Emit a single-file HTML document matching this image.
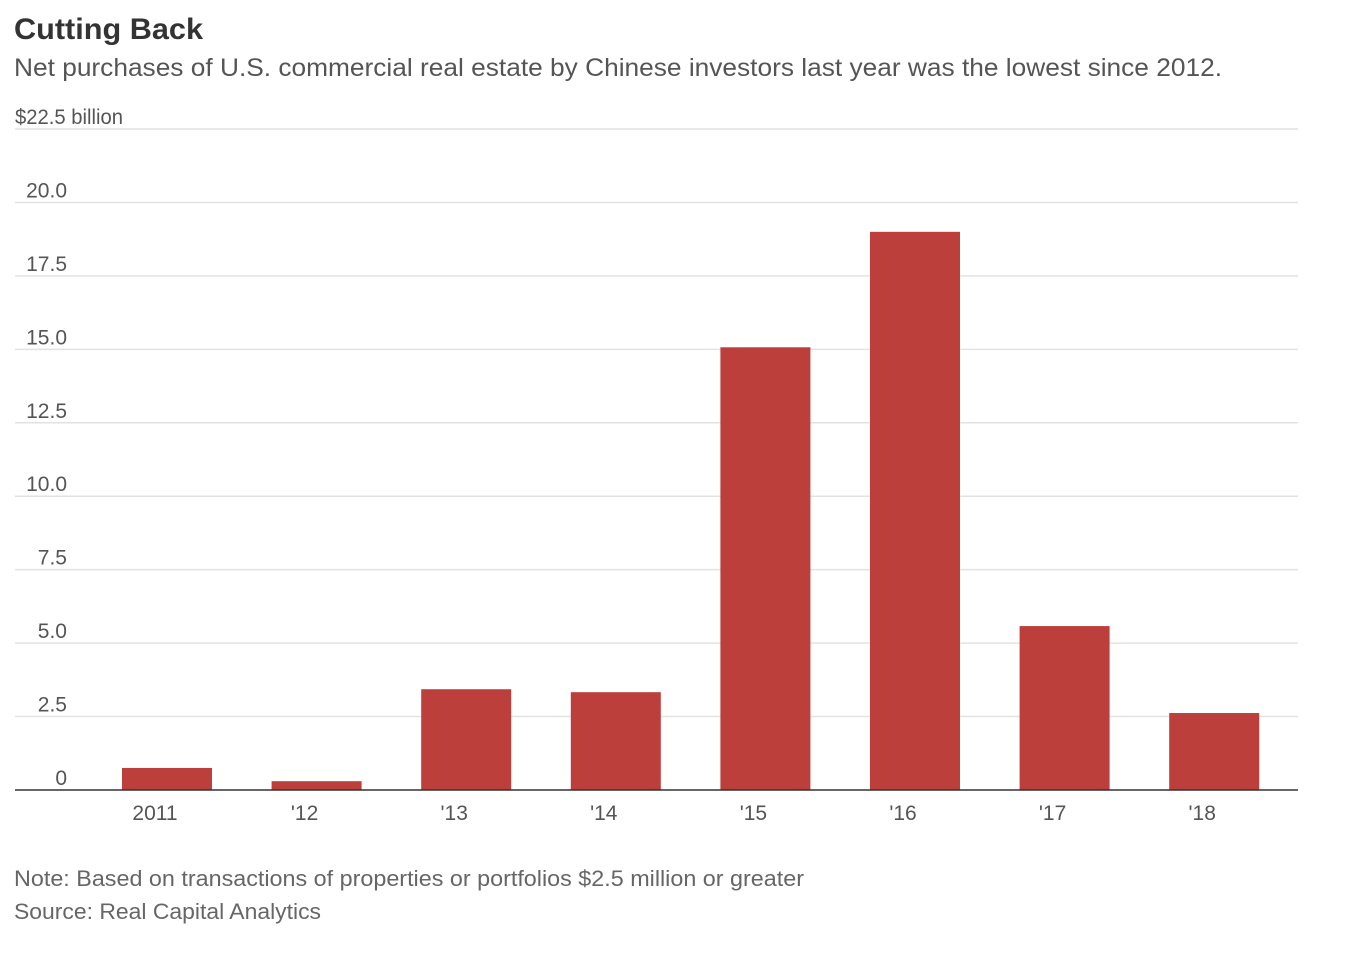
<!DOCTYPE html>
<html><head><meta charset="utf-8"><style>
html,body{margin:0;padding:0;background:#fff;}
svg{display:block;font-family:"Liberation Sans",sans-serif;}
</style></head><body>
<svg id="chart" width="1350" height="960">
<text x="14" y="39" font-size="30" font-weight="bold" fill="#333" textLength="189" lengthAdjust="spacingAndGlyphs">Cutting Back</text>
<text x="14" y="76" font-size="25" fill="#555" textLength="1208" lengthAdjust="spacingAndGlyphs">Net purchases of U.S. commercial real estate by Chinese investors last year was the lowest since 2012.</text>
<g id="grid"></g>
<g id="bars"></g>
<g id="xlabels"></g>
<line x1="15" x2="1298" y1="790" y2="790" stroke="#333" stroke-width="1.5"/>
<text x="14" y="886" font-size="22" fill="#666" textLength="790" lengthAdjust="spacingAndGlyphs">Note: Based on transactions of properties or portfolios $2.5 million or greater</text>
<text x="14" y="919" font-size="22" fill="#666" textLength="307" lengthAdjust="spacingAndGlyphs">Source: Real Capital Analytics</text>
</svg>
<script>
const categories = ["2011","'12","'13","'14","'15","'16","'17","'18"];
const values = [0.75, 0.3, 3.43, 3.33, 15.07, 19.0, 5.58, 2.62];
const yTicks = [0, 2.5, 5, 7.5, 10, 12.5, 15, 17.5, 20, 22.5];
const yTickLabels = ["0","2.5","5.0","7.5","10.0","12.5","15.0","17.5","20.0","$22.5 billion"];
const NS = "http://www.w3.org/2000/svg";
const y = v => 790 - v * (661 / 22.5);
const xc = i => 167 + i * 149.6;
const grid = document.getElementById('grid');
yTicks.forEach((t, i) => {
  if (t > 0) {
    const l = document.createElementNS(NS, 'line');
    l.setAttribute('x1', 15); l.setAttribute('x2', 1298);
    l.setAttribute('y1', y(t)); l.setAttribute('y2', y(t));
    l.setAttribute('stroke', '#e2e2e2'); l.setAttribute('stroke-width', '1.5');
    
    
    grid.appendChild(l);
  }
  const tx = document.createElementNS(NS, 'text');
  const last = i === yTicks.length - 1;
  tx.setAttribute('x', last ? 15 : 67);
  tx.setAttribute('y', y(t) - 5);
  tx.setAttribute('text-anchor', last ? 'start' : 'end');
  tx.setAttribute('font-size', '21');
  tx.setAttribute('fill', '#555');
  if (last) { tx.setAttribute('textLength', '108'); tx.setAttribute('lengthAdjust', 'spacingAndGlyphs'); }
  tx.textContent = yTickLabels[i];
  
  
  grid.appendChild(tx);
});
const bars = document.getElementById('bars');
const xl = document.getElementById('xlabels');
categories.forEach((c, i) => {
  const r = document.createElementNS(NS, 'rect');
  r.setAttribute('x', xc(i) - 45); r.setAttribute('width', 90);
  r.setAttribute('y', y(values[i])); r.setAttribute('height', 790 - y(values[i]));
  r.setAttribute('fill', '#bd3f3c');
  
  
  bars.appendChild(r);
  const t = document.createElementNS(NS, 'text');
  t.setAttribute('x', xc(i) - 12); t.setAttribute('y', 820);
  t.setAttribute('text-anchor', 'middle'); t.setAttribute('font-size', '21'); t.setAttribute('fill', '#555');
  t.textContent = c;
  
  
  xl.appendChild(t);
});
</script>
</body></html>
